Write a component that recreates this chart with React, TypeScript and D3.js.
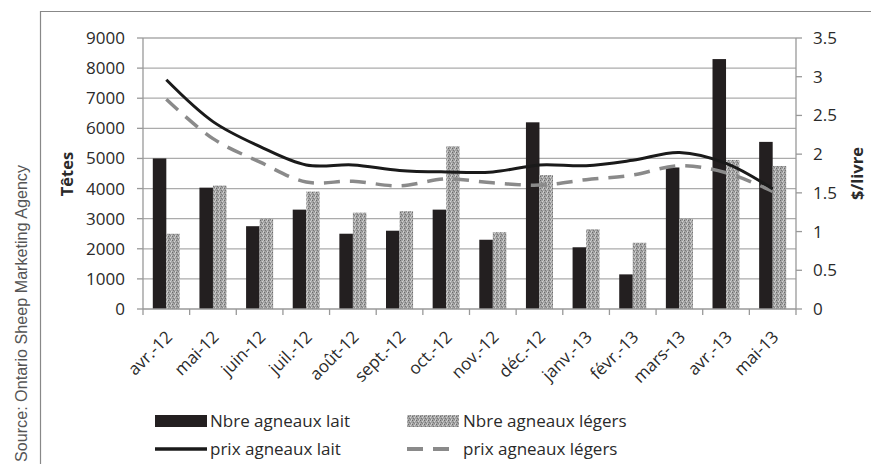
import React from "react";
import * as d3 from "d3";

const categories = ["avr.-12","mai-12","juin-12","juil.-12","août-12","sept.-12","oct.-12","nov.-12","déc.-12","janv.-13","févr.-13","mars-13","avr.-13","mai-13"];
const nbreLait = [5000,4030,2750,3300,2500,2600,3300,2300,6200,2050,1150,4700,8300,5550];
const nbreLegers = [2500,4100,3000,3900,3200,3250,5400,2550,4450,2650,2200,3000,4950,4750];
const prixLait = [2.96,2.42,2.1,1.86,1.86,1.79,1.77,1.77,1.86,1.85,1.92,2.02,1.88,1.55];
const prixLegers = [2.71,2.2,1.9,1.64,1.65,1.59,1.68,1.63,1.6,1.67,1.73,1.85,1.76,1.52];
const leftTicks = [0,1000,2000,3000,4000,5000,6000,7000,8000,9000];
const rightTicks = [0,0.5,1,1.5,2,2.5,3,3.5];

const FONT = "'Open Sans', sans-serif";
const TXT = "#2a2a2a";
const GRID = "#ababab";

export default function App() {
  const L = 143, R = 796, T = 38, B = 309;
  const x = d3.scaleBand<string>().domain(categories).range([L, R]).paddingInner(0.42).paddingOuter(0.21);
  const step = (R - L) / categories.length;
  const inner = d3.scaleBand<string>().domain(["lait", "legers"]).range([0, x.bandwidth()]);
  const yL = d3.scaleLinear().domain([0, 9000]).range([B, T]);
  const yR = d3.scaleLinear().domain([0, 3.5]).range([B, T]);
  const cx = (c: string) => (x(c) as number) + x.bandwidth() / 2;
  const lineGen = (vals: number[]) =>
    d3.line<number>().x((_, i) => cx(categories[i])).y((v) => yR(v)).curve(d3.curveCatmullRom.alpha(0.5))(vals) as string;
  const boundaries = d3.range(categories.length + 1).map((i) => L + i * step);

  return (
    <svg width={871} height={464} style={{ position: "absolute", left: 0, top: 0, background: "#fff" }} fontFamily={FONT}>
      <defs>
        <pattern id="speck" patternUnits="userSpaceOnUse" width={4} height={4}>
          <rect width={4} height={4} fill="#a4a4a4" />
          <rect x={0} y={0} width={1} height={1} fill="#6a6a6a" />
          <rect x={2} y={1} width={1} height={1} fill="#d2d2d2" />
          <rect x={1} y={2} width={1} height={1} fill="#777" />
          <rect x={3} y={3} width={1} height={1} fill="#d0d0d0" />
          <rect x={2} y={3} width={1} height={1} fill="#858585" />
          <rect x={3} y={0} width={1} height={1} fill="#c4c4c4" />
        </pattern>
      </defs>
      <rect width={871} height={464} fill="#fff" />
      {/* frame */}
      <line x1={40} x2={871} y1={11.5} y2={11.5} stroke="#888" strokeWidth={1.2} />
      <line x1={40.5} x2={40.5} y1={11} y2={464} stroke="#888" strokeWidth={1.2} />
      {/* source */}
      <text transform={`translate(27,462) rotate(-90)`} fontFamily="'Liberation Sans Narrow','Liberation Sans',sans-serif" fontSize={16.5} fill="#555" textLength={297} lengthAdjust="spacingAndGlyphs">Source: Ontario Sheep Marketing Agency</text>
      {/* gridlines */}
      {leftTicks.filter((t) => t > 0).map((t) => (
        <line key={t} x1={L} x2={R} y1={yL(t)} y2={yL(t)} stroke={GRID} strokeWidth={1.3} />
      ))}
      {/* bars */}
      {categories.map((c, i) => (
        <g key={c}>
          <rect x={(x(c) as number) + (inner("lait") as number)} y={yL(nbreLait[i])} width={inner.bandwidth()} height={B - yL(nbreLait[i])} fill="#231f20" />
          <rect x={(x(c) as number) + (inner("legers") as number)} y={yL(nbreLegers[i])} width={inner.bandwidth()} height={B - yL(nbreLegers[i])} fill="url(#speck)" />
        </g>
      ))}
      {/* axes */}
      <line x1={L} x2={L} y1={T} y2={B} stroke="#999" strokeWidth={1.3} />
      <line x1={R} x2={R} y1={T} y2={B} stroke="#999" strokeWidth={1.3} />
      <line x1={L} x2={R} y1={B} y2={B} stroke="#999" strokeWidth={1.3} />
      {leftTicks.map((t) => (
        <g key={t}>
          <line x1={L - 6} x2={L} y1={yL(t)} y2={yL(t)} stroke="#999" strokeWidth={1.3} />
          <text x={125} y={yL(t)} dy="0.35em" textAnchor="end" fontSize={17} fill={TXT}>{t}</text>
        </g>
      ))}
      {rightTicks.map((t) => (
        <g key={t}>
          <line x1={R} x2={R + 6} y1={yR(t)} y2={yR(t)} stroke="#999" strokeWidth={1.3} />
          <text x={813} y={yR(t)} dy="0.35em" textAnchor="start" fontSize={17} fill={TXT}>{t}</text>
        </g>
      ))}
      {boundaries.map((bx, i) => (
        <line key={i} x1={bx} x2={bx} y1={B} y2={B + 6} stroke="#999" strokeWidth={1.3} />
      ))}
      {categories.map((c) => (
        <text key={c} transform={`translate(${cx(c) + 7},${338}) rotate(-45)`} textAnchor="end" fontSize={17} fill={TXT}>{c}</text>
      ))}
      {/* axis titles */}
      <text transform="translate(67.5,174) rotate(-90)" textAnchor="middle" dy="0.35em" fontSize={16.5} fontWeight="bold" fill={TXT}>Têtes</text>
      <text transform="translate(857.5,173.5) rotate(-90)" textAnchor="middle" dy="0.35em" fontSize={16.5} fontWeight="bold" fill={TXT}>$/livre</text>
      {/* lines */}
      <path d={lineGen(prixLegers)} fill="none" stroke="#8a8a8a" strokeWidth={3.5} strokeDasharray="16,10" />
      <path d={lineGen(prixLait)} fill="none" stroke="#1a1a1a" strokeWidth={3} />
      {/* legend */}
      <rect x={155} y={415} width={52} height={12} fill="#231f20" />
      <text x={210} y={421} dy="0.35em" fontSize={17} fill={TXT}>Nbre agneaux lait</text>
      <line x1={155} x2={207} y1={449} y2={449} stroke="#1a1a1a" strokeWidth={3.5} />
      <text x={210} y={449} dy="0.35em" fontSize={17} fill={TXT}>prix agneaux lait</text>
      <rect x={407} y={415} width={52} height={12} fill="url(#speck)" />
      <text x={463} y={421} dy="0.35em" fontSize={17} fill={TXT}>Nbre agneaux légers</text>
      <line x1={407} x2={459} y1={449} y2={449} stroke="#8a8a8a" strokeWidth={4} strokeDasharray="16,10" />
      <text x={463} y={449} dy="0.35em" fontSize={17} fill={TXT}>prix agneaux légers</text>
    </svg>
  );
}
